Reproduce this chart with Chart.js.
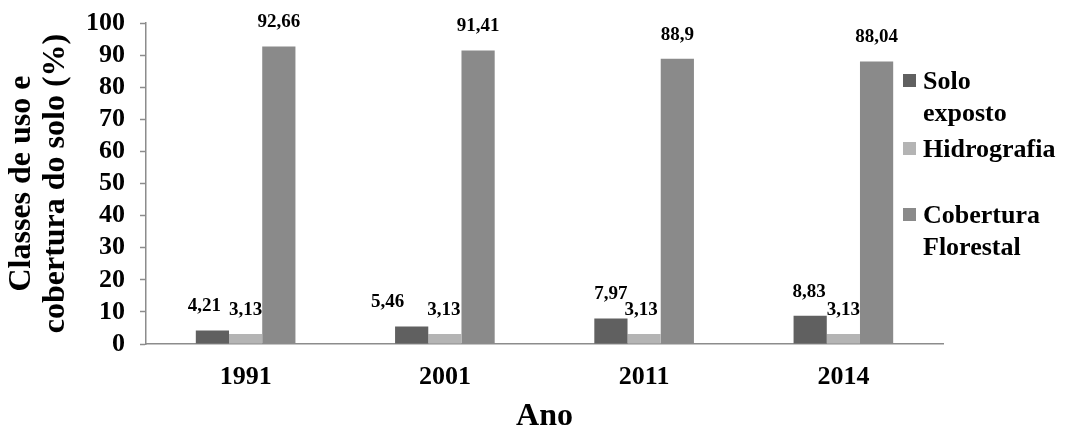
<!DOCTYPE html>
<html>
<head>
<meta charset="utf-8">
<script src="https://cdn.jsdelivr.net/npm/chart.js@4/dist/chart.umd.min.js"></script>
<style>
  html, body { margin: 0; padding: 0; background: #ffffff; }
  #wrap { width: 1066px; height: 431px; }
</style>
</head>
<body>
<div id="wrap"><canvas id="c" width="1066" height="431"></canvas></div>
<script>
// Land use / land cover classes (%) by year
const anos = ['1991', '2001', '2011', '2014'];
const soloExposto = [4.21, 5.46, 7.97, 8.83];
const hidrografia = [3.13, 3.13, 3.13, 3.13];
const coberturaFlorestal = [92.66, 91.41, 88.9, 88.04];
const yTicks = [0, 10, 20, 30, 40, 50, 60, 70, 80, 90, 100];

const SERIF = '"Liberation Serif", "Times New Roman", serif';
const AXIS_GRAY = '#8c8c8c';

// Value labels above each bar, using comma as decimal separator
const valueLabels = {
  id: 'valueLabels',
  afterDatasetsDraw(chart, args, opts) {
    const ctx = chart.ctx;
    ctx.save();
    ctx.font = 'bold 19px ' + SERIF;
    ctx.fillStyle = '#000';
    ctx.textAlign = 'center';
    ctx.textBaseline = 'middle';
    chart.data.datasets.forEach((ds, i) => {
      const meta = chart.getDatasetMeta(i);
      const shifts = (opts.shift && opts.shift[i]) || [];
      meta.data.forEach((bar, j) => {
        const txt = String(ds.data[j]).replace('.', ',');
        ctx.fillText(txt, bar.x + (shifts[j] || 0), bar.y - opts.gap);
      });
    });
    ctx.restore();
  }
};

// Legend on the right with wrapped entries
const sideLegend = {
  id: 'sideLegend',
  afterDraw(chart, args, opts) {
    const ctx = chart.ctx;
    ctx.save();
    ctx.font = 'bold 26px ' + SERIF;
    ctx.textBaseline = 'alphabetic';
    ctx.textAlign = 'left';
    chart.data.datasets.forEach((ds, i) => {
      const base = opts.rows[i];
      ctx.fillStyle = ds.backgroundColor;
      ctx.fillRect(opts.x, base - 15, 13, 13);
      ctx.fillStyle = '#000';
      const lines = ds.legendLines || [ds.label];
      lines.forEach((ln, k) => {
        ctx.fillText(ln, opts.x + 20, base + k * 32);
      });
    });
    ctx.restore();
  }
};

new Chart(document.getElementById('c'), {
  type: 'bar',
  data: {
    labels: anos,
    datasets: [
      { label: 'Solo exposto', legendLines: ['Solo', 'exposto'], data: soloExposto, backgroundColor: '#606060' },
      { label: 'Hidrografia', data: hidrografia, backgroundColor: '#b4b4b4' },
      { label: 'Cobertura Florestal', legendLines: ['Cobertura', 'Florestal'], data: coberturaFlorestal, backgroundColor: '#8a8a8a' }
    ]
  },
  options: {
    responsive: false,
    animation: false,
    devicePixelRatio: 1,
    layout: { padding: { top: 23, right: 123, bottom: 0, left: 0 } },
    datasets: { bar: { categoryPercentage: 0.5, barPercentage: 1.0, borderWidth: 0 } },
    plugins: {
      legend: { display: false },
      tooltip: { enabled: false },
      valueLabels: { gap: 24, shift: [[-8, -24, 0, -1], [0, -1, -3, 0], [0, 0, 0, 0]] },
      sideLegend: { x: 903, rows: [89, 157, 223] }
    },
    scales: {
      x: {
        afterFit(scale) { scale.height = 87; scale.paddingLeft = 0; scale.paddingRight = 0; },
        grid: { display: true, drawOnChartArea: false, drawTicks: false },
        border: { display: true, color: AXIS_GRAY, width: 1.5 },
        ticks: { color: '#000', padding: 18, font: { family: SERIF, size: 26, weight: 'bold' } },
        title: {
          display: true, text: 'Ano', color: '#000',
          font: { family: SERIF, size: 32, weight: 'bold', lineHeight: 0.9 },
          padding: { top: 0, bottom: 0 }
        }
      },
      y: {
        min: 0, max: 100,
        afterFit(scale) { scale.width = 146; scale.paddingTop = 0; scale.paddingBottom = 0; },
        afterBuildTicks(scale) { scale.ticks = yTicks.map(v => ({ value: v })); },
        grid: { drawOnChartArea: false, drawTicks: true, tickLength: 6, tickColor: AXIS_GRAY, tickWidth: 1.5 },
        border: { display: true, color: AXIS_GRAY, width: 1.5 },
        ticks: { color: '#000', padding: 15, autoSkip: false, font: { family: SERIF, size: 26, weight: 'bold' } },
        title: {
          display: true, text: ['Classes de uso e', 'cobertura do solo (%)'], color: '#000',
          font: { family: SERIF, size: 32, weight: 'bold', lineHeight: 1.08 },
          padding: { top: 4, bottom: 0 }
        }
      }
    }
  },
  plugins: [valueLabels, sideLegend]
});
</script>
</body>
</html>
